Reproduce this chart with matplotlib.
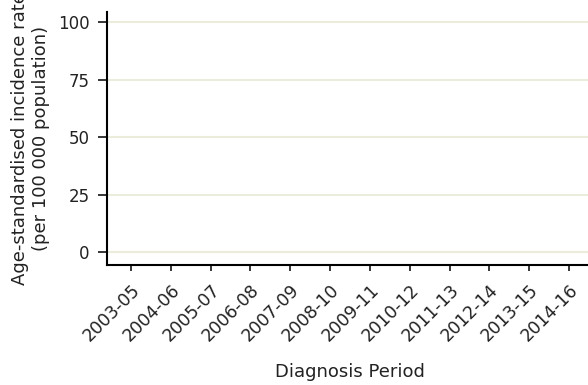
import matplotlib
matplotlib.use("Agg")
import matplotlib.pyplot as plt

# chart has no series drawn, only the empty frame
periods = ["2003-05", "2004-06", "2005-07", "2006-08", "2007-09", "2008-10",
           "2009-11", "2010-12", "2011-13", "2012-14", "2013-15", "2014-16"]
y_ticks = [0, 25, 50, 75, 100]

ylabel = "Age-standardised incidence rate\n(per 100 000 population)"
xlabel = "Diagnosis Period"

text_col = "#222222"
grid_col = "#ececdc"

plt.rcParams["font.family"] = ["DejaVu Sans"]

fig = plt.figure(figsize=(5.88, 3.85), dpi=100)
ax = fig.add_axes([0.182, 0.3117, 0.8265, 0.6571])

x = list(range(len(periods)))
ax.set_xlim(-0.6, 11.6)
ax.set_ylim(-5.65, 104.35)

ax.set_yticks(y_ticks)
ax.set_yticklabels([str(v) for v in y_ticks], fontsize=12, color=text_col)
ax.set_xticks(x)
# anchored at the top-right corner so the text hangs down-left of the tick
ax.set_xticklabels(periods, fontsize=12.5, color=text_col,
                   rotation=45, ha="right", va="top", rotation_mode="anchor")

for v in y_ticks:
    ax.axhline(v, color=grid_col, lw=1.5, zorder=0)

ax.spines["top"].set_visible(False)
ax.spines["right"].set_visible(False)
ax.spines["left"].set_linewidth(1.5)
ax.spines["bottom"].set_linewidth(1.5)

ax.tick_params(axis="y", direction="out", length=6.5, width=1.1, pad=6)
ax.tick_params(axis="x", direction="out", length=4, width=1.1, pad=7.5)

ax.set_ylabel(ylabel, fontsize=13, color=text_col, labelpad=6)
ax.set_xlabel(xlabel, fontsize=13, color=text_col, labelpad=13)

fig.savefig("out.png", dpi=100)
